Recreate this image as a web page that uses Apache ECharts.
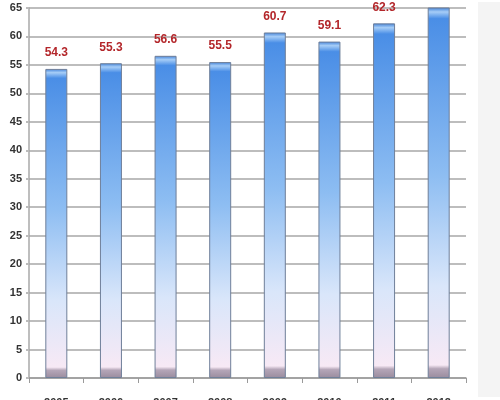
<!DOCTYPE html>
<html><head><meta charset="utf-8">
<script src="https://cdn.jsdelivr.net/npm/echarts@6/dist/echarts.min.js"></script>
<style>html,body{margin:0;padding:0;background:#fff}#c{width:500px;height:400px}</style>
</head><body><div id="c"></div>
<script>
var categories = ['2005','2006','2007','2008','2009','2010','2011','2012'];
var values = [54.3, 55.3, 56.6, 55.5, 60.7, 59.1, 62.3, 65.1];
var yTicks = {min: 0, max: 65, interval: 5};

var chart = echarts.init(document.getElementById('c'));
var font = "'Liberation Sans Narrow','Arial Narrow',sans-serif";
chart.setOption({
  backgroundColor: '#fff',
  animation: false,
  graphic: [{type:'rect', shape:{x:478,y:2,width:22,height:395}, style:{fill:'#f4f4f4'}, z:-1}],
  grid: {left: 29, right: 34, top: 8, bottom: 22, outerBoundsMode: 'none', containLabel: false},
  xAxis: {
    type: 'category', data: categories, boundaryGap: true,
    axisLine: {lineStyle: {color: '#9a9a9a', width: 1.5}},
    axisTick: {show: true, length: 5, lineStyle: {color: '#9a9a9a'}},
    axisLabel: {margin: 19, color: '#333', fontFamily: font, fontWeight: 'bold', fontSize: 11, verticalAlign: 'top'}
  },
  yAxis: {
    type: 'value', min: yTicks.min, max: yTicks.max, interval: yTicks.interval,
    axisLine: {show: true, lineStyle: {color: '#a8a8a8', width: 1.5}},
    axisTick: {show: true, length: 3, lineStyle: {color: '#bbb', width: 2}},
    axisLabel: {margin: 7, color: '#333', fontFamily: font, fontWeight: 'bold', fontSize: 11},
    splitLine: {lineStyle: {color: '#bdbdbd', width: 2}}
  },
  series: [{
    type: 'bar', data: values, barWidth: 22,
    itemStyle: {
      color: {type:'linear', x:0, y:0, x2:0, y2:1, colorStops:[
        {offset:0, color:'#3f80d8'},
        {offset:0.012, color:'#a6cdf7'},
        {offset:0.03, color:'#4a8ee6'},
        {offset:0.45, color:'#8dbdf2'},
        {offset:0.75, color:'#d9e6fa'},
        {offset:0.965, color:'#f7e9f5'},
        {offset:0.975, color:'#b5a6b8'},
        {offset:1, color:'#9a8c9e'}
      ]},
      borderColor: '#6f7f99', borderWidth: 1
    },
    label: {show: true, position: 'top', distance: 10, color: '#b3262a', fontFamily: font, fontWeight: 'bold', fontSize: 12}
  }]
});
</script></body></html>
